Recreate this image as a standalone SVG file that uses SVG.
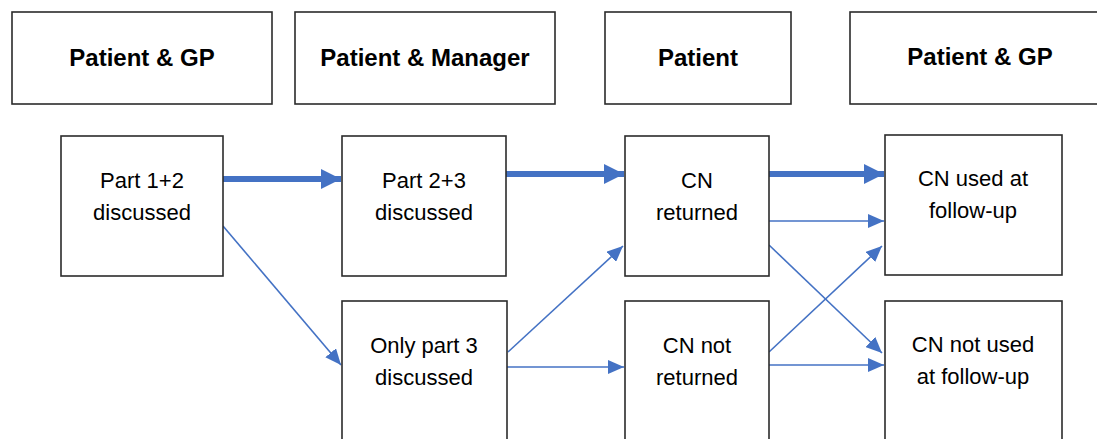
<svg xmlns="http://www.w3.org/2000/svg" width="1097" height="439" viewBox="0 0 1097 439">
<style>
.box{fill:#fff;stroke:#2b2b2b;stroke-width:1.6}
.hdr{font-family:"Liberation Sans",Arial,sans-serif;font-weight:bold;font-size:24px;fill:#000;text-anchor:middle}
.lbl{font-family:"Liberation Sans",Arial,sans-serif;font-size:22px;fill:#000;text-anchor:middle}
.thick{stroke:#4472C4;stroke-width:6;fill:none}
.thin{stroke:#4472C4;stroke-width:1.6;fill:none}
</style>
<defs>
<marker id="ahThick" markerUnits="userSpaceOnUse" markerWidth="22" markerHeight="20" refX="20" refY="10" orient="auto">
<path d="M0,0 L20,10 L0,20 Z" fill="#4472C4"/>
</marker>
<marker id="ahThin" markerUnits="userSpaceOnUse" markerWidth="18" markerHeight="14" refX="16" refY="7" orient="auto">
<path d="M0,0 L16,7 L0,14 Z" fill="#4472C4"/>
</marker>
</defs>
<rect width="1097" height="439" fill="#fff"/>
<g id="hdr1"><rect class="box" x="12" y="12" width="260" height="92"/><text class="hdr" x="142" y="66">Patient &amp; GP</text></g>
<g id="hdr2"><rect class="box" x="295" y="12" width="260" height="92"/><text class="hdr" x="425" y="66">Patient &amp; Manager</text></g>
<g id="hdr3"><rect class="box" x="605" y="12" width="186" height="92"/><text class="hdr" x="698" y="66">Patient</text></g>
<g id="hdr4"><rect class="box" x="850" y="12" width="260" height="92"/><text class="hdr" x="980" y="65">Patient &amp; GP</text></g>

<g id="connectors">
<line class="thick" x1="223" y1="179" x2="341" y2="179" marker-end="url(#ahThick)"/>
<line class="thick" x1="506" y1="174" x2="624" y2="174" marker-end="url(#ahThick)"/>
<line class="thick" x1="769" y1="174" x2="884" y2="174" marker-end="url(#ahThick)"/>
<line class="thin" x1="223" y1="226" x2="341" y2="365" marker-end="url(#ahThin)"/>
<line class="thin" x1="508" y1="352" x2="623" y2="246" marker-end="url(#ahThin)"/>
<line class="thin" x1="507" y1="367" x2="624" y2="367" marker-end="url(#ahThin)"/>
<line class="thin" x1="767" y1="221" x2="884" y2="221" marker-end="url(#ahThin)"/>
<line class="thin" x1="769" y1="245" x2="882" y2="353" marker-end="url(#ahThin)"/>
<line class="thin" x1="769" y1="352" x2="882" y2="246" marker-end="url(#ahThin)"/>
<line class="thin" x1="769" y1="365" x2="884" y2="365" marker-end="url(#ahThin)"/>
</g>

<g id="n1"><rect class="box" x="61" y="136" width="162" height="140"/><text class="lbl" x="142" y="188">Part 1+2</text><text class="lbl" x="142" y="220">discussed</text></g>
<g id="n2"><rect class="box" x="342" y="136" width="164" height="140"/><text class="lbl" x="424" y="188">Part 2+3</text><text class="lbl" x="424" y="220">discussed</text></g>
<g id="n3"><rect class="box" x="625" y="136" width="144" height="140"/><text class="lbl" x="697" y="188">CN</text><text class="lbl" x="697" y="220">returned</text></g>
<g id="n4"><rect class="box" x="885" y="135" width="177" height="140"/><text class="lbl" x="973" y="186">CN used at</text><text class="lbl" x="973" y="218">follow-up</text></g>
<g id="n5"><rect class="box" x="342" y="301" width="165" height="150"/><text class="lbl" x="424" y="353">Only part 3</text><text class="lbl" x="424" y="385">discussed</text></g>
<g id="n6"><rect class="box" x="625" y="301" width="144" height="150"/><text class="lbl" x="697" y="353">CN not</text><text class="lbl" x="697" y="385">returned</text></g>
<g id="n7"><rect class="box" x="885" y="301" width="177" height="150"/><text class="lbl" x="973" y="352">CN not used</text><text class="lbl" x="973" y="384">at follow-up</text></g>
</svg>
